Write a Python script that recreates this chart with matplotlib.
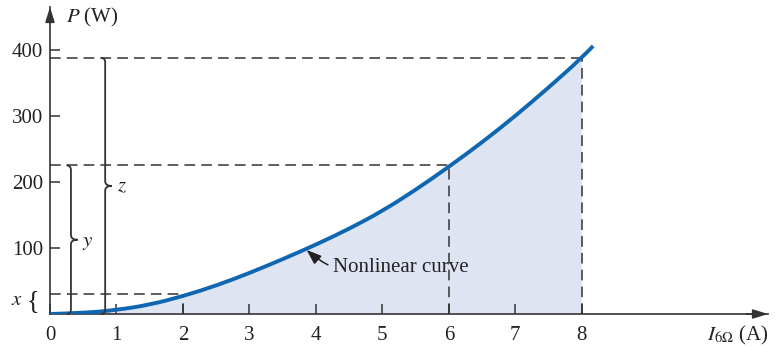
import numpy as np
import matplotlib.pyplot as plt
from matplotlib.path import Path
from matplotlib.patches import PathPatch

plt.rcParams['font.family'] = ['Liberation Serif', 'DejaVu Serif']
plt.rcParams['mathtext.fontset'] = 'stix'

# power curve P(I), read at half-amp steps
current = [0, 0.5, 1, 1.5, 2, 2.5, 3, 3.5, 4, 4.5, 5, 5.5, 6, 6.5, 7, 7.5, 8, 8.17]
power = [0, 1.5, 6, 14, 27, 43, 62, 83, 105, 129, 156, 188, 223, 260, 300, 343, 388, 406]

# marked operating points (dashed guides)
mark_current = [2, 6, 8]
mark_power = [30, 225, 388]

x_ticks = [0, 1, 2, 3, 4, 5, 6, 7, 8]
y_ticks = [100, 200, 300, 400]

ink = '#333333'
curve_blue = '#0f67b2'
shade = '#dfe4f3'


def smooth_path(xs, ys):
    """Quadratic Bezier path through midpoints, using the samples as controls."""
    pts = np.column_stack([xs, ys])
    verts = [pts[0]]
    codes = [Path.MOVETO]
    for k in range(1, len(pts) - 1):
        mid = (pts[k] + pts[k + 1]) / 2 if k < len(pts) - 2 else pts[k + 1]
        verts += [pts[k], mid]
        codes += [Path.CURVE3, Path.CURVE3]
    return verts, codes


def brace(ax, x, y0, y1, hook=0.065, tip=0.1, d=7):
    """Right-pointing curly brace spanning y0..y1 at x (data units)."""
    ym = (y0 + y1) / 2
    verts = [(x - hook, y1), (x, y1), (x, y1 - d),
             (x, ym + d),
             (x, ym), (x + tip, ym),
             (x, ym), (x, ym - d),
             (x, y0 + d),
             (x, y0), (x - hook, y0)]
    codes = [Path.MOVETO, Path.CURVE3, Path.CURVE3,
             Path.LINETO,
             Path.CURVE3, Path.CURVE3,
             Path.CURVE3, Path.CURVE3,
             Path.LINETO,
             Path.CURVE3, Path.CURVE3]
    ax.add_patch(PathPatch(Path(verts, codes), fill=False, edgecolor=ink,
                           lw=1.3, clip_on=False, zorder=4))


fig = plt.figure(figsize=(7.82, 3.47), dpi=100)
ax = fig.add_axes([50 / 782, 33 / 347, 718 / 782, 307 / 347])
ax.set_xlim(0, 10.8)
ax.set_ylim(0, 465)

I = np.array(current)
P = np.array(power)

# shaded area under the curve up to 8 A
inside = I <= 8
fv, fc = smooth_path(I[inside], P[inside])
fv += [(8, 0), (0, 0), (0, 0)]
fc += [Path.LINETO, Path.LINETO, Path.CLOSEPOLY]
ax.add_patch(PathPatch(Path(fv, fc), facecolor=shade, edgecolor='none',
                       zorder=1))

cv, cc = smooth_path(I, P)
ax.add_patch(PathPatch(Path(cv, cc), fill=False, edgecolor=curve_blue,
                       lw=2.8, capstyle='butt', zorder=3))

for xi, pi in zip(mark_current, mark_power):
    ax.plot([0, xi], [pi, pi], color=ink, lw=1.1, ls=(0, (7, 4)), zorder=2)
    ax.plot([xi, xi], [0, pi], color=ink, lw=1.1, ls=(0, (7, 4)), zorder=2)

# axes with arrowheads
for side in ['top', 'right']:
    ax.spines[side].set_visible(False)
for side in ['left', 'bottom']:
    ax.spines[side].set_color(ink)
    ax.spines[side].set_linewidth(1.2)
ax.annotate('', xy=(1, 0), xycoords='axes fraction', xytext=(0.97, 0),
            arrowprops=dict(arrowstyle='-|>,head_length=0.9,head_width=0.28',
                            color=ink, lw=1.2, shrinkA=0, shrinkB=0))
ax.annotate('', xy=(0, 1), xycoords='axes fraction', xytext=(0, 0.95),
            arrowprops=dict(arrowstyle='-|>,head_length=0.9,head_width=0.28',
                            color=ink, lw=1.2, shrinkA=0, shrinkB=0))

ax.set_xticks(x_ticks)
ax.set_xticklabels([str(t) for t in x_ticks])
ax.set_yticks(y_ticks)
ax.set_yticklabels([str(t) for t in y_ticks])
ax.tick_params(axis='x', direction='in', length=7, width=1.1, color=ink,
               labelsize=15, pad=9, labelcolor='#222222')
ax.tick_params(axis='y', direction='in', length=7, width=1.1, color=ink,
               labelsize=15, pad=5, labelcolor='#222222')

ax.text(0.24, 449, r'$P$ (W)', fontsize=15, va='center', ha='left',
        color='#222222')
ax.text(10.8, -32, r'$I_{6\Omega}$ (A)', fontsize=15, va='center',
        ha='right', color='#222222', clip_on=False)

# braces marking x, y and z
ax.text(-0.5, 21, r'$x$', fontsize=15, va='center', ha='center',
        color='#222222')
ax.text(-0.25, 19, '{', fontsize=19, va='center', ha='center',
        color='#222222')
brace(ax, 0.315, 0, mark_power[1])
ax.text(0.57, 108, r'$y$', fontsize=15, va='center', ha='center',
        color='#222222')
brace(ax, 0.83, 0, mark_power[2])
ax.text(1.08, 192, r'$z$', fontsize=15, va='center', ha='center',
        color='#222222')

ax.annotate('Nonlinear curve', xy=(3.86, 97), xytext=(4.26, 70),
            fontsize=15, va='center', ha='left', color='#222222',
            arrowprops=dict(arrowstyle='-|>,head_length=0.6,head_width=0.22',
                            color='#222222', lw=1.1,
                            connectionstyle='arc3,rad=-0.3',
                            shrinkA=2, shrinkB=0))

fig.savefig('out.png', dpi=100)
